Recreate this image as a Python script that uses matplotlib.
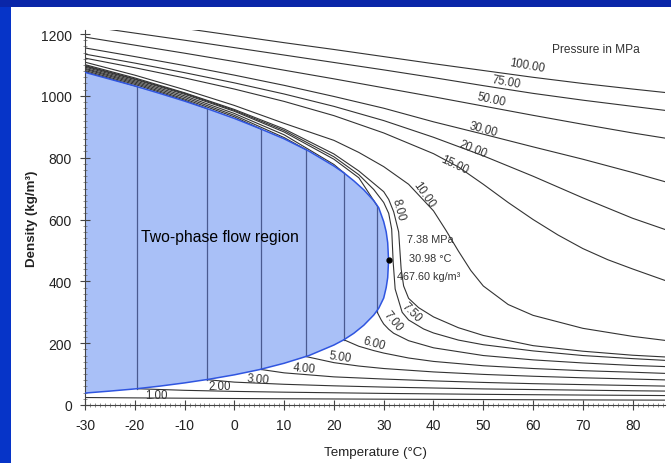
import matplotlib
matplotlib.use("Agg")
import matplotlib.pyplot as plt
import matplotlib.patches as patches
from matplotlib.ticker import MultipleLocator

plt.rcParams['font.family'] = ['Liberation Sans', 'DejaVu Sans']
plt.rcParams['axes.unicode_minus'] = False

# -------------------------------
# Saturation dome (CO2)
# -------------------------------
sat_t = [-30, -25, -20, -15, -10, -5, 0, 5, 10, 15, 20, 22, 24, 26, 28, 29, 30, 30.5, 30.8, 30.98]
sat_liq = [1076, 1054, 1032, 1008, 983, 956, 927, 895, 861, 821, 773, 751, 725, 696, 661, 638, 593, 560, 525, 467.6]
sat_vap = [38.6, 45, 52, 61, 71.5, 83.6, 97.6, 114.3, 135, 160, 194, 211, 232, 258, 291, 313, 346, 380, 412, 467.6]

# tie lines inside the dome (sub-critical isobars)
tie_t = [-19.5, -5.55, 5.3, 14.3, 22.0, 28.7]
tie_liq = [1030, 959, 893, 827, 751, 644]
tie_vap = [52.6, 82, 115, 157, 211, 300]

# -------------------------------
# Isobars (density kg/m3 vs temperature C)
# -------------------------------
t_hi = [-30, -20, -10, 0, 10, 20, 30, 40, 50, 60, 70, 80, 87]
p100_rho = [1262, 1240, 1218, 1195, 1172, 1150, 1127, 1104, 1082, 1060, 1040, 1022, 1010]
p75_rho = [1226, 1203, 1180, 1156, 1132, 1108, 1084, 1059, 1033, 1008, 986, 966, 952]
p50_rho = [1190, 1164, 1138, 1111, 1083, 1055, 1026, 997, 967, 937, 908, 880, 862]
p30_rho = [1155, 1127, 1098, 1067, 1034, 998, 960, 916, 876, 835, 795, 752, 720]
p20_rho = [1135, 1106, 1075, 1042, 1006, 966, 920, 866, 806, 740, 670, 604, 565]

p15_t = [-30, -20, -10, 0, 10, 20, 30, 40, 45, 50, 55, 60, 65, 70, 75, 80, 87]
p15_rho = [1122, 1091, 1058, 1022, 982, 936, 880, 813, 770, 714, 655, 600, 550, 506, 470, 440, 400]

p10_t = [-30, -20, -10, 0, 10, 20, 25, 30, 35, 40, 42.5, 45, 47.5, 50, 55, 60, 70, 80, 87]
p10_rho = [1109, 1067, 1020, 969, 911, 856, 817, 771, 714, 628, 565, 498, 435, 385, 325, 290, 248, 222, 208]

p8_t = [-30, -20, -10, 0, 10, 20, 25, 30, 31, 32, 33, 33.5, 34, 35, 37, 40, 45, 50, 60, 70, 80, 87]
p8_rho = [1101, 1058, 1010, 956, 893, 812, 757, 690, 665, 625, 560, 440, 385, 345, 315, 285, 250, 225, 192, 174, 161, 155]

p75b_t = [-30, -20, -10, 0, 10, 20, 25, 28, 30, 31, 31.6, 31.9, 32.3, 33.7, 35, 38, 40, 45, 50, 60, 70, 80, 87]
p75b_rho = [1098, 1055, 1008, 953, 888, 803, 745, 697, 655, 620, 569, 462, 375, 300, 275, 246, 233, 210, 195, 175, 160, 150, 144]

p7_liq_t = [-30, -20, -10, 0, 10, 20, 25, 28.7]
p7_liq_rho = [1096, 1053, 1005, 950, 883, 795, 735, 644]
p7_vap_t = [28.7, 29.5, 30, 31, 32, 35, 40, 50, 60, 70, 80, 87]
p7_vap_rho = [300, 275, 262, 245, 232, 208, 185, 160, 146, 136, 128, 124]

p6_liq_t = [-30, -20, -10, 0, 10, 20, 22]
p6_liq_rho = [1093, 1049, 1000, 943, 874, 778, 751]
p6_vap_t = [22, 25, 28, 30, 35, 40, 50, 60, 70, 80, 87]
p6_vap_rho = [211, 190, 176, 168, 152, 141, 127, 118, 111, 106, 102]

p5_liq_t = [-30, -20, -10, 0, 10, 14.3]
p5_liq_rho = [1089, 1045, 995, 937, 865, 827]
p5_vap_t = [14.3, 20, 25, 30, 40, 50, 60, 70, 80, 87]
p5_vap_rho = [157, 137, 126, 118, 107, 99, 93, 88, 84, 81]

p4_liq_t = [-30, -20, -10, 0, 5.3]
p4_liq_rho = [1086, 1041, 990, 932, 893]
p4_vap_t = [5.3, 10, 20, 30, 40, 50, 60, 70, 80, 87]
p4_vap_rho = [115, 104, 91, 84, 78, 73, 69, 66, 63, 61]

p3_liq_t = [-30, -20, -10, -5.55]
p3_liq_rho = [1082, 1037, 986, 959]
p3_vap_t = [-5.55, 0, 10, 20, 30, 40, 50, 60, 70, 80, 87]
p3_vap_rho = [82, 74, 67, 62, 58, 55, 52, 50, 48, 46, 45]

p2_liq_t = [-30, -25, -19.5]
p2_liq_rho = [1078, 1056, 1030]
p2_vap_t = [-19.5, -10, 0, 10, 20, 30, 40, 50, 60, 70, 80, 87]
p2_vap_rho = [52.6, 47.5, 44, 41.5, 39.5, 37.5, 36, 34.5, 33.3, 32.2, 31.2, 30.5]

p1_t = [-30, -20, -10, 0, 10, 20, 30, 40, 50, 60, 70, 80, 87]
p1_rho = [24.2, 23, 22, 21, 20.2, 19.5, 18.8, 18.2, 17.6, 17, 16.5, 16, 15.7]

# isobar labels
label_txt = ["100.00", "75.00", "50.00", "30.00", "20.00", "15.00", "10.00", "8.00",
             "7.50", "7.00", "6.00", "5.00", "4.00", "3.00", "2.00", "1.00"]
label_t = [58.8, 54.7, 51.7, 50.1, 47.9, 44.3, 38.1, 32.9, 35.5, 31.8, 28.0, 21.2, 14.0, 4.7, -2.9, -15.7]
label_rho = [1100, 1045, 990, 893, 828, 779, 682, 634, 301, 272, 200, 155, 120, 84, 61, 33]
label_rot = [-10, -10, -12, -15, -22, -25, -55, -75, -45, -50, -15, -8, -5, -5, 0, 0]

crit_t, crit_rho = 30.98, 467.6

# -------------------------------
# Figure (slide look)
# -------------------------------
fig = plt.figure(figsize=(6.71, 4.64), dpi=100, facecolor='#0634c8')
fig.patches.append(patches.Rectangle((0, 1 - 8/464), 1, 8/464, transform=fig.transFigure,
                                     facecolor='#0a26a8', edgecolor='none', zorder=-10))
fig.patches.append(patches.Rectangle((11/671, 0), 1, 1 - 8/464, transform=fig.transFigure,
                                     facecolor='white', edgecolor='none', zorder=-10))

ax = fig.add_axes([85/671, 1 - 406/464, 580/671, 375/464])
ax.set_zorder(5)
ax.set_facecolor('none')
ax.set_xlim(-30, 86.5)
ax.set_ylim(0, 1213)

# two-phase dome
dome_t = sat_t + sat_t[::-1]
dome_rho = sat_liq + sat_vap[::-1]
ax.fill(dome_t, dome_rho, facecolor='#a9c0f7', edgecolor='none', zorder=1)
ax.plot(sat_t, sat_liq, color='#2f55e0', lw=1.1, zorder=3)
ax.plot(sat_t, sat_vap, color='#2f55e0', lw=1.1, zorder=3)
for t, rl, rv in zip(tie_t, tie_liq, tie_vap):
    ax.plot([t, t], [rv, rl], color='#4a5a90', lw=0.9, zorder=2)

lc = '#333333'
lw = 0.8
for r in [p100_rho, p75_rho, p50_rho, p30_rho, p20_rho]:
    ax.plot(t_hi, r, color=lc, lw=lw, zorder=2)
ax.plot(p15_t, p15_rho, color=lc, lw=lw, zorder=2)
ax.plot(p10_t, p10_rho, color=lc, lw=lw, zorder=2)
ax.plot(p8_t, p8_rho, color=lc, lw=lw, zorder=2)
ax.plot(p75b_t, p75b_rho, color=lc, lw=lw, zorder=2)
for tt, rr in [(p7_liq_t, p7_liq_rho), (p7_vap_t, p7_vap_rho),
               (p6_liq_t, p6_liq_rho), (p6_vap_t, p6_vap_rho),
               (p5_liq_t, p5_liq_rho), (p5_vap_t, p5_vap_rho),
               (p4_liq_t, p4_liq_rho), (p4_vap_t, p4_vap_rho),
               (p3_liq_t, p3_liq_rho), (p3_vap_t, p3_vap_rho),
               (p2_liq_t, p2_liq_rho), (p2_vap_t, p2_vap_rho),
               (p1_t, p1_rho)]:
    ax.plot(tt, rr, color=lc, lw=lw, zorder=2)

for txt, t, r, rot in zip(label_txt, label_t, label_rho, label_rot):
    ax.text(t, r, txt, fontsize=8.3, color='#333333', rotation=rot,
            rotation_mode='anchor', ha='center', va='center', zorder=4)

# critical point
ax.plot([crit_t], [crit_rho], 'o', color='black', ms=3.5, zorder=5)
ax.text(34.66, 537, "7.38 MPa", fontsize=7.8, color='#333333', va='center', zorder=4)
ax.text(35.06, 475, "30.98 \u00b0C", fontsize=7.8, color='#333333', va='center', zorder=4)
ax.text(32.65, 417, "467.60 kg/m\u00b3", fontsize=7.8, color='#333333', va='center', zorder=4)

ax.text(-18.75, 546, "Two-phase flow region", fontsize=11.3, color='black', va='center', zorder=4)
ax.text(72.6, 1151, "Pressure in MPa", fontsize=8.6, color='#333333', ha='center', va='center')

# axes styling
for s in ['top', 'right']:
    ax.spines[s].set_visible(False)
for s in ['left', 'bottom']:
    ax.spines[s].set_color('#444444')
    ax.spines[s].set_linewidth(0.8)

ax.set_xticks(list(range(-30, 81, 10)))
ax.set_yticks(list(range(0, 1201, 200)))
ax.xaxis.set_minor_locator(MultipleLocator(1))
ax.yaxis.set_minor_locator(MultipleLocator(20))
ax.tick_params(which='major', direction='inout', length=7, width=0.8, color='#444444',
               labelsize=10, labelcolor='#222222', pad=6)
ax.tick_params(which='minor', direction='inout', length=3, width=0.5, color='#666666')

ax.set_xlabel("Temperature (\u00b0C)", fontsize=9.6, color='#222222', labelpad=10)
ax.set_ylabel("Density (kg/m\u00b3)", fontsize=9.6, color='#222222', fontweight='bold', labelpad=2)

fig.savefig("out.png", dpi=100, facecolor=fig.get_facecolor())
